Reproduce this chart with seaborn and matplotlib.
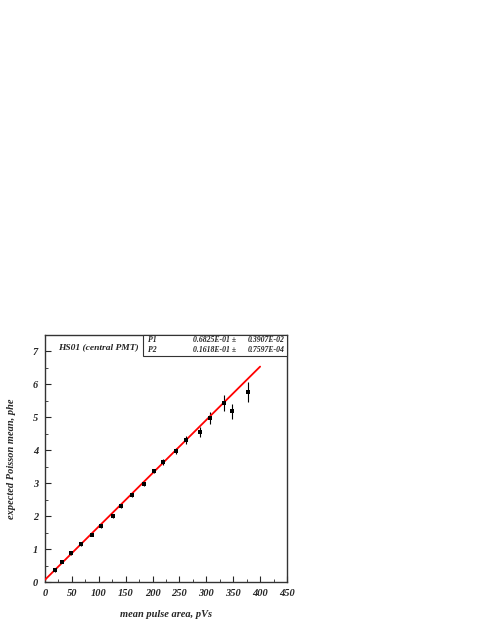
import matplotlib
matplotlib.use("Agg")
import matplotlib.pyplot as plt
from matplotlib.ticker import MultipleLocator
import seaborn as sns
import pandas as pd
import numpy as np

# data
area = [19.2, 32.2, 48.9, 67.5, 86.7, 104.6, 125.6, 141.1, 161.5, 183.2,
        203.0, 219.1, 244.5, 262.4, 288.4, 307.6, 333.0, 347.9, 377.6]
poisson_mean = [0.355, 0.62, 0.87, 1.14, 1.44, 1.69, 1.99, 2.30, 2.64, 2.97,
                3.37, 3.64, 3.98, 4.31, 4.56, 4.98, 5.43, 5.19, 5.77]
err = [0.04, 0.04, 0.04, 0.05, 0.05, 0.05, 0.06, 0.06, 0.06, 0.07,
       0.07, 0.08, 0.09, 0.11, 0.16, 0.18, 0.24, 0.23, 0.31]
p1, p1_err = 0.06825, 0.003907
p2, p2_err = 0.01618, 0.00007597
fit_range = [0, 400]
title = "HS01 (central PMT)"

sns.set_style("ticks")
plt.rcParams['font.family'] = ['Liberation Serif', 'DejaVu Serif']

fig = plt.figure(figsize=(4.85, 6.27), dpi=100)
W, H = 485, 627
ax = fig.add_axes([45 / W, 1 - 582 / H, (287 - 45) / W, (582 - 335) / H])

df = pd.DataFrame({"x": area, "y": poisson_mean, "e": err})
fit_df = pd.DataFrame({"x": fit_range,
                       "y": [p1 + p2 * v for v in fit_range]})

ax.errorbar(df["x"], df["y"], yerr=df["e"], fmt="none", ecolor="black",
            elinewidth=0.8, capsize=0, zorder=2)
sns.lineplot(data=fit_df, x="x", y="y", color="red", linewidth=1.3, ax=ax,
             zorder=3)
sns.scatterplot(data=df, x="x", y="y", marker="s", s=12, color="black",
                edgecolor="black", linewidth=0, ax=ax, zorder=4)

ax.set_xlim(0, 450)
ax.set_ylim(0, 7.5)
ax.xaxis.set_major_locator(MultipleLocator(50))
ax.xaxis.set_minor_locator(MultipleLocator(25))
ax.yaxis.set_major_locator(MultipleLocator(1))
ax.yaxis.set_minor_locator(MultipleLocator(0.5))
ax.tick_params(which="both", direction="in", top=False, right=False)
ax.tick_params(which="major", length=4, width=0.8, labelsize=7.5, pad=5)
ax.tick_params(which="minor", length=2.5, width=0.6)
for lab in ax.get_xticklabels() + ax.get_yticklabels():
    lab.set_fontweight("bold")
    lab.set_fontstyle("italic")
for s in ax.spines.values():
    s.set_linewidth(1.0)
    s.set_color("#333333")

ax.set_xlabel("mean pulse area, pVs", fontsize=7.5, fontweight="bold",
              fontstyle="italic", labelpad=9)
ax.set_ylabel("expected Poisson mean, phe", fontsize=7.5, fontweight="bold",
              fontstyle="italic", labelpad=12)

ax.text(58 / W, 1 - 347 / H, title, transform=fig.transFigure, fontsize=6.8,
        fontweight="bold", fontstyle="italic", va="center", ha="left")

# stats box
bx0, bx1, by0, by1 = 143, 287, 335, 356
rect = plt.Rectangle((bx0 / W, 1 - by1 / H), (bx1 - bx0) / W, (by1 - by0) / H,
                     transform=fig.transFigure, fill=True, facecolor="white",
                     edgecolor="#333333", linewidth=0.8, zorder=5)
fig.patches.append(rect)
rows = [("P1", "0.6825E-01 \u00b1", "0.3907E-02", 340.5),
        ("P2", "0.1618E-01 \u00b1", "0.7597E-04", 350.5)]
for name, val, e, yy in rows:
    kw = dict(transform=fig.transFigure, fontsize=5.6, fontweight="bold",
              fontstyle="italic", va="center", zorder=6)
    fig.text(148 / W, 1 - yy / H, name, ha="left", **kw)
    fig.text(236 / W, 1 - yy / H, val, ha="right", **kw)
    fig.text(285 / W, 1 - yy / H, e, ha="right", **kw)

fig.savefig("out.png", dpi=100)
